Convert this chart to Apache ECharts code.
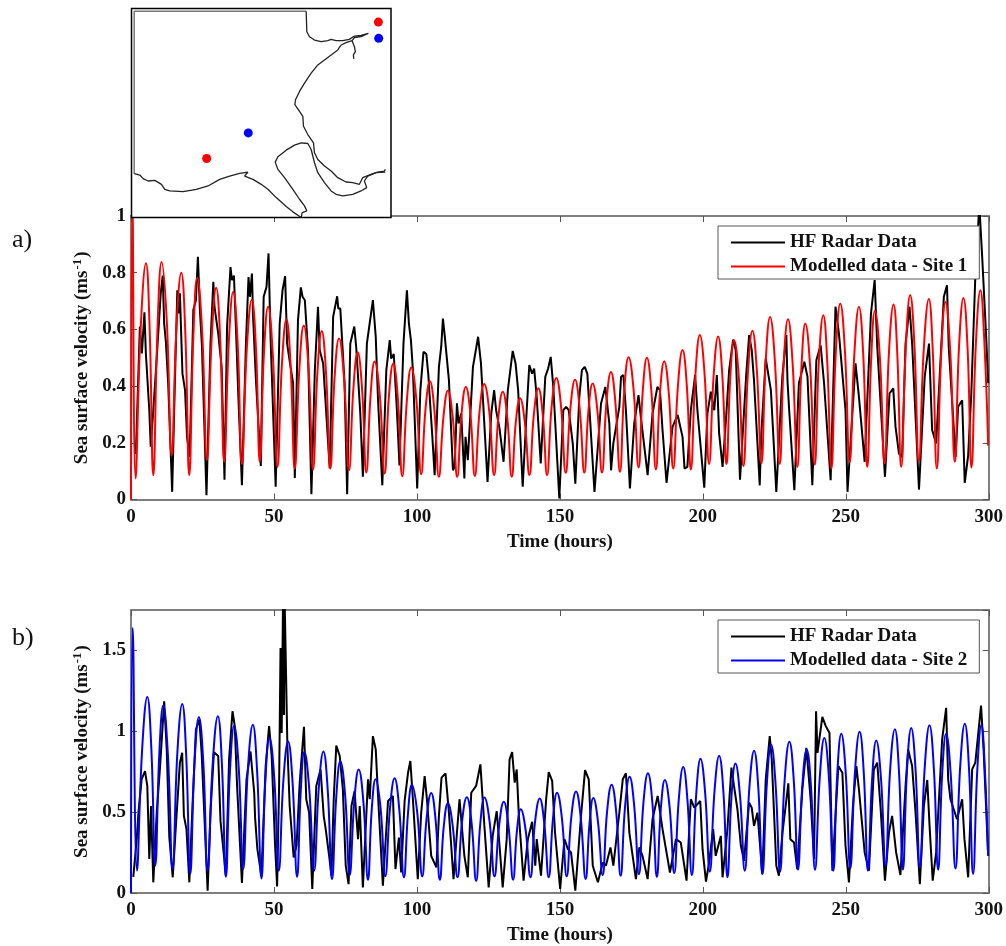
<!DOCTYPE html>
<html>
<head>
<meta charset="utf-8">
<title>Sea surface velocity</title>
<script src="https://cdn.jsdelivr.net/npm/echarts@6/dist/echarts.min.js"></script>
<style>
html,body{margin:0;padding:0;background:#fff;}
#main{width:1006px;height:946px;}
</style>
</head>
<body>
<div id="main"></div>
<script>
// site 1, hours and speed for the radar and the model
var radarHoursA=[1.7,3.1,3.8,4.7,5.2,6.4,6.9,7.8,9.0,10.4,11.1,11.6,12.2,13.0,14.4,15.4,16.2,16.6,17.1,18.0,18.9,19.6,20.5,21.8,22.7,23.4,24.1,24.8,26.4,27.8,28.8,29.2,30.5,31.7,32.7,33.6,34.8,35.3,36.0,36.9,37.5,38.8,40.2,41.1,41.6,42.3,42.7,43.7,45.4,46.4,47.4,48.1,48.8,50.6,52.0,53.0,53.9,54.6,55.8,56.7,57.3,58.4,59.4,60.0,60.8,61.9,63.1,64.3,65.4,66.0,67.2,69.5,70.7,72.1,72.5,73.2,74.7,75.6,76.7,78.1,78.8,80.2,81.1,82.5,84.6,85.6,86.4,87.9,89.3,90.5,91.0,91.9,93.0,93.9,95.3,96.5,97.2,97.9,98.6,100.1,101.2,102.3,103.3,104.0,104.4,105.4,106.2,107.0,107.7,108.5,109.1,109.7,110.2,111.2,112.6,113.2,114.0,114.6,115.5,116.6,117.0,117.8,119.6,120.5,121.4,122.4,124.7,126.0,127.0,127.7,128.9,130.3,131.8,133.5,134.5,135.4,137.0,138.4,139.3,140.3,141.0,141.9,143.3,144.9,145.9,146.8,147.7,149.8,151.2,152.2,153.1,154.5,155.4,156.8,157.7,158.7,159.6,162.1,164.4,165.9,167.3,167.9,168.7,170.8,171.4,172.2,173.1,174.5,176.0,177.5,178.3,180.7,182.4,184.1,185.0,185.9,187.3,189.4,191.2,192.9,193.6,194.6,195.8,197.3,198.1,200.5,201.6,202.8,204.0,204.9,205.7,206.9,208.0,209.2,210.6,211.5,213.0,215.2,216.2,217.1,217.9,219.9,220.4,222.0,223.8,225.7,227.8,229.2,229.6,230.2,232.0,233.6,235.5,236.6,238.3,239.7,241.2,242.4,244.7,246.4,247.6,249.9,250.6,253.4,254.6,256.6,258.8,260.1,261.0,263.7,265.3,266.6,267.4,268.6,269.7,270.9,272.3,273.2,275.6,277.6,279.1,280.2,281.6,284.3,285.4,286.0,288.4,289.3,290.7,291.6,292.8,293.9,295.3,296.7,297.7,299.1,299.8];
var radarSpeedA=[.16,.61,.515,.66,.515,.315,.186,.315,.5,.727,.79,.62,.556,.41,.027,.433,.738,.656,.727,.444,.386,.221,.15,.668,.703,.856,.668,.544,.015,.55,.768,.68,.586,.468,.07,.61,.82,.774,.79,.55,.374,.05,.55,.785,.715,.797,.644,.42,.118,.715,.75,.868,.574,.045,.62,.738,.788,.55,.468,.41,.076,.633,.748,.715,.703,.527,.019,.456,.68,.527,.48,.11,.644,.717,.674,.674,.41,.019,.55,.61,.533,.303,.08,.55,.703,.574,.35,.05,.456,.562,.497,.513,.315,.12,.55,.738,.62,.562,.456,.039,.386,.521,.513,.439,.374,.221,.086,.292,.468,.539,.638,.58,.586,.42,.103,.115,.339,.268,.303,.074,.221,.139,.468,.521,.574,.48,.062,.303,.386,.315,.25,.133,.386,.524,.48,.386,.045,.315,.474,.444,.462,.362,.127,.433,.462,.503,.397,.004,.315,.327,.315,.198,.056,.362,.456,.468,.444,.027,.339,.397,.268,.103,.198,.327,.433,.439,.315,.039,.268,.368,.292,.086,.303,.397,.386,.245,.059,.256,.298,.221,.109,.115,.315,.439,.315,.042,.303,.38,.315,.439,.233,.115,.268,.456,.564,.527,.07,.444,.58,.527,.42,.05,.221,.497,.386,.027,.433,.58,.42,.315,.033,.41,.486,.433,.05,.491,.544,.41,.068,.68,.586,.315,.027,.48,.362,.133,.656,.774,.539,.08,.374,.392,.256,.162,.15,.55,.68,.55,.035,.433,.55,.245,.198,.715,.756,.539,.15,.327,.35,.059,.156,.374,.786,1.04,.856,.574,.41];
var modelHoursA=[0,.5,1.6,3.4,5.24,6.5,7.8,9.3,10.71,12.5,14.2,15.9,17.58,19,20.37,21.8,23.17,24.9,26.54,28.2,29.8,31.2,32.6,34.2,35.74,37.3,38.77,40.5,42.26,43.7,45.05,46.5,47.96,49.6,51.22,52.8,54.37,55.8,57.28,58.9,60.42,62.1,63.68,65.2,66.71,68.2,69.73,71.2,72.76,74.5,76.25,77.8,79.28,80.8,82.31,83.8,85.22,87,88.71,90.2,91.73,93.3,94.88,96.5,98.02,99.8,101.5,103,104.54,106.1,107.68,109.3,110.83,112.5,114.09,115.6,117.11,118.7,120.26,121.9,123.52,125.3,127,128.5,130.03,131.6,133.18,134.6,136.09,137.7,139.35,140.9,142.49,144,145.52,147.1,148.77,150.4,152.04,153.7,155.3,156.9,158.56,160,161.47,163.1,164.73,166.3,167.87,169.4,171.01,172.5,174.04,175.8,177.53,179,180.44,182,183.59,185,186.5,188.1,189.64,191.3,192.9,194.4,195.81,197.4,198.95,200.6,202.2,203.8,205.36,206.8,208.27,209.6,210.94,212.6,214.2,215.8,217.35,218.9,220.49,222,223.52,225.2,226.89,228.3,229.8,231.4,233.06,234.5,235.86,237.5,239.12,240.6,242.14,243.5,244.94,246.5,248.08,249.7,251.34,253,254.6,256.1,257.51,258.9,260.19,261.9,263.56,265.1,266.71,268,269.38,271,272.53,274,275.55,277.3,279.05,280.4,281.84,283.4,284.87,286.5,288.13,289.6,291.15,292.6,293.95,295.5,297.09,298.4,299.8];
var modelSpeedA=[0,1.05,.074,.605,.833,.609,.086,.612,.838,.633,.156,.607,.8,.586,.086,.573,.782,.589,.139,.565,.747,.563,.133,.553,.733,.551,.125,.531,.705,.533,.133,.516,.68,.511,.115,.48,.636,.478,.109,.463,.614,.462,.106,.448,.594,.449,.109,.43,.568,.429,.103,.394,.519,.392,.095,.369,.487,.369,.092,.364,.48,.361,.082,.351,.466,.353,.089,.319,.417,.316,.08,.293,.384,.293,.08,.302,.397,.303,.083,.31,.407,.311,.086,.292,.38,.29,.08,.274,.357,.276,.086,.3,.392,.3,.086,.326,.429,.329,.094,.324,.422,.324,.095,.315,.409,.315,.095,.344,.45,.344,.098,.381,.502,.385,.113,.384,.5,.382,.106,.373,.488,.374,.109,.402,.527,.401,.106,.438,.58,.444,.125,.44,.575,.44,.125,.431,.562,.429,.118,.452,.595,.454,.127,.489,.644,.488,.125,.483,.636,.48,.115,.469,.621,.472,.123,.492,.65,.488,.109,.516,.691,.523,.131,.515,.68,.511,.115,.5,.665,.504,.127,.52,.688,.516,.115,.539,.721,.545,.133,.535,.707,.528,.109,.521,.697,.528,.133,.538,.711,.532,.113,.55,.738,.57,.19];

// site 2
var radarHoursB=[.8,2.0,2.6,3.7,4.9,5.7,6.4,7.0,7.8,9.0,10.1,11.6,12.5,13.4,14.6,15.7,17.1,17.9,18.5,19.4,20.4,21.5,22.7,23.9,24.7,26.8,27.8,29.0,30.5,31.3,33.2,34.3,35.5,36.3,37.1,38.8,40.4,41.8,43.1,43.4,44.2,45.6,47.1,48.3,49.2,50.4,51.1,51.8,52.3,52.7,53.2,53.5,53.7,54.1,54.7,55.5,56.9,57.9,59.0,60.5,61.3,62.3,63.4,64.8,66.3,67.4,68.1,69.3,70.1,70.9,71.8,73.0,74.1,75.1,76.1,77.1,78.2,79.4,80.0,81.1,82.9,83.5,84.6,85.6,86.4,88.1,89.9,91.6,92.5,93.7,94.5,95.7,96.9,97.7,98.6,100.3,101.5,102.7,103.5,105.0,106.8,107.7,108.6,110.0,111.2,112.8,114.0,114.9,115.7,116.6,117.8,119.0,120.7,122.2,123.6,125.1,126.5,127.9,128.9,130.0,131.4,132.4,133.3,134.2,134.9,135.6,137.3,138.8,140.3,141.4,141.9,143.4,145.2,146.1,147.3,148.3,150.1,151.6,152.8,153.9,155.4,157.4,158.8,160.1,161.5,163.3,165.0,166.1,167.7,168.7,170.8,172.0,173.1,174.3,176.6,177.8,178.9,180.7,182.4,184.2,185.9,187.1,188.5,190.6,192.3,194.3,195.8,197.0,199.1,199.9,201.1,202.2,203.6,204.5,206.3,206.9,207.8,208.6,210.0,210.9,212.1,213.3,214.4,216.2,217.1,217.9,219.1,220.8,222.0,223.4,224.1,225.7,226.6,227.8,229.9,230.6,231.9,233.0,234.8,236.2,237.7,238.9,239.6,240.1,241.8,243.0,244.3,245.3,247.4,248.8,249.9,251.1,252.5,253.7,254.6,256.6,258.1,259.8,261.0,262.2,263.7,265.1,266.2,267.6,269.1,270.9,271.8,273.2,274.4,275.9,277.3,278.5,279.3,280.4,281.6,283.7,285.1,285.8,286.6,288.9,290.7,291.5,292.8,294.2,295.3,297.3,298.2,299.8];
var radarSpeedB=[.1,.333,.497,.703,.754,.662,.21,.538,.066,.497,.764,1.186,.888,.343,.097,.415,.806,.867,.477,.395,.066,.538,1.011,1.073,.867,.014,.497,.871,.847,.446,.107,.826,1.124,1.032,.662,.062,.703,.875,.62,.466,.271,.107,.785,1.032,.847,.292,.041,.662,1.515,.99,1.85,1.1,1.85,1.85,.908,.538,.22,.292,.682,1.028,.58,.497,.025,.662,.764,.477,.395,.23,.107,.58,.912,.847,.641,.169,.055,.538,.631,.333,.538,.035,.703,.58,.97,.888,.6,.045,.569,.6,.148,.343,.127,.569,.744,.816,.58,.086,.497,.723,.58,.23,.158,.477,.713,.74,.497,.086,.374,.58,.415,.23,.097,.62,.662,.795,.415,.035,.353,.506,.292,.035,.333,.826,.871,.682,.764,.497,.076,.333,.44,.169,.333,.107,.58,.748,.693,.374,.025,.333,.271,.251,.014,.477,.76,.703,.169,.066,.189,.169,.282,.169,.497,.703,.74,.374,.086,.282,.23,.086,.456,.6,.395,.271,.127,.333,.312,.076,.58,.528,.569,.271,.07,.189,.395,.23,.353,.097,.251,.395,.775,.662,.518,.292,.199,.559,.528,.415,.497,.117,.703,.97,.826,.169,.107,.364,.678,.333,.312,.148,.641,.898,.58,.21,1.124,.867,1.089,1.032,.99,.138,.785,.744,.292,.066,.538,.785,.641,.251,.138,.764,.806,.518,.076,.374,.477,.251,.111,.662,.888,.785,.497,.055,.538,.699,.415,.076,.251,.949,1.145,.703,.58,.456,.58,.333,.097,.764,.806,1.159,.888,.23];
var modelHoursB=[0,.6,2.1,3.9,5.7,7.1,8.5,9.9,11.29,12.9,14.55,16.2,17.93,19.3,20.72,22.2,23.75,25.3,26.78,28.6,30.38,31.8,33.18,34.6,36.09,37.7,39.23,40.9,42.61,44.1,45.63,47,48.43,50.1,51.69,53.3,54.95,56.5,58.09,59.4,60.65,62.3,64.03,65.7,67.29,68.8,70.31,71.8,73.22,74.9,76.48,78.1,79.63,81.3,82.89,84.2,85.56,87.3,88.94,90.6,92.2,93.8,95.46,96.9,98.25,100.1,101.86,103.4,105,106.5,108.03,109.4,110.83,112.5,114.2,115.8,117.46,119.1,120.72,122.2,123.63,125.4,127.13,128.8,130.38,132,133.64,135,136.32,138,139.7,141.3,142.96,144.5,146.1,147.6,149.01,150.7,152.39,154,155.65,157.3,159.02,160.4,161.7,163.3,164.96,166.5,168.1,169.7,171.25,172.8,174.39,176,177.65,179.2,180.79,182.4,183.93,185.3,186.73,188.4,189.99,191.6,193.13,194.6,196.16,197.7,199.19,200.8,202.44,204.1,205.7,207.2,208.62,210,211.41,213,214.67,216.3,217.93,219.4,220.84,222.4,223.87,225.4,227.01,228.6,230.27,231.8,233.29,234.8,236.33,237.8,239.23,240.9,242.49,244.1,245.63,247,248.43,250,251.57,253.2,254.83,256.3,257.74,259.2,260.65,262.3,263.91,265.5,267.17,268.6,269.97,271.4,272.88,274.4,275.9,277.6,279.27,280.8,282.31,283.7,285.1,286.7,288.36,290,291.62,293.1,294.53,296,297.44,298.6,299.77];
var modelSpeedB=[0,1.64,.138,.89,1.212,.899,.17,.862,1.159,.856,.148,.863,1.169,.853,.117,.797,1.089,.804,.138,.807,1.093,.795,.1,.752,1.032,.767,.148,.772,1.04,.755,.09,.699,.96,.713,.138,.697,.937,.686,.1,.641,.873,.653,.138,.654,.875,.638,.086,.596,.814,.603,.111,.568,.764,.559,.082,.517,.703,.523,.103,.527,.709,.525,.097,.498,.67,.5,.103,.464,.619,.458,.082,.413,.555,.418,.097,.444,.592,.437,.076,.436,.59,.444,.103,.426,.565,.42,.082,.387,.518,.392,.097,.438,.584,.438,.097,.463,.62,.465,.103,.47,.627,.465,.086,.437,.588,.445,.111,.502,.67,.501,.107,.535,.719,.538,.117,.553,.74,.548,.1,.519,.699,.526,.123,.582,.779,.579,.111,.614,.83,.621,.132,.634,.849,.623,.097,.59,.801,.602,.138,.657,.88,.651,.117,.678,.919,.683,.132,.694,.935,.698,.144,.665,.888,.665,.144,.714,.958,.712,.138,.73,.984,.734,.152,.744,.997,.739,.138,.702,.943,.711,.169,.76,1.013,.752,.144,.758,1.021,.762,.158,.774,1.038,.77,.144,.732,.984,.734,.152,.778,1.046,.767,.117,.763,1.04,.78,.23];

// inset map, in map units
var landEdge=[[403,523],[403,33],[920,33]];
var coastNorth=[[920,33],[922,95],[930,110],[945,120],[965,125],[985,122],[995,118],[1010,122],[1030,122],[1050,118],[1065,108],[1085,106],[1107,100],[1085,110],[1065,113],[1058,122],[1040,128],[1025,135],[1015,150],[995,165],[975,180],[955,195],[935,220],[915,250],[900,275],[888,300],[886,315],[900,335],[910,350],[912,380],[925,405],[942,430],[945,460],[955,480],[975,500],[995,515],[1015,535],[1040,548],[1060,550],[1080,555],[1090,535],[1115,525],[1135,518],[1155,515],[1158,510]];
var coastBranch=[[1058,122],[1065,140],[1068,155],[1062,165],[1063,177]];
var coastSouth=[[1158,518],[1130,520],[1105,530],[1095,545],[1102,565],[1085,575],[1060,585],[1030,590],[1010,585],[995,575],[975,550],[955,520],[945,490],[935,450],[925,432],[905,430],[885,437],[860,452],[835,472],[827,488],[835,510],[855,535],[880,570],[900,600],[915,620],[922,635],[908,640],[905,655],[880,638],[860,622],[830,595],[805,570],[785,555],[760,540],[735,530],[745,518],[720,522],[690,530],[660,540],[625,560],[590,570],[550,577],[510,575],[495,570],[485,555],[465,543],[445,545],[430,538],[420,527],[403,523]];
var sitesRed=[[621,477],[1137,66]];
var sitesBlue=[[746,400],[1138,115]];

var serif='"Liberation Serif","Times New Roman",serif';
var axisGrey='#7f7f7f';

function pairs(xs,ys){
	var out=[];
	for(var i=0;i<xs.length;i++){
		out.push([xs[i],ys[i]]);
	}
	return out;
}

function timeAxis(idx,isTop){
	return {
		type:'value',gridIndex:idx,min:0,max:300,interval:50,
		position:isTop?'top':'bottom',
		name:isTop?'':'Time (hours)',nameLocation:'middle',nameGap:33,
		nameTextStyle:{fontFamily:serif,fontWeight:'bold',fontSize:19,color:'#111'},
		axisLine:{show:true,onZero:false,lineStyle:{color:axisGrey,width:2}},
		axisTick:{show:true,inside:true,length:6,lineStyle:{color:'#555',width:1}},
		axisLabel:{show:!isTop,margin:8,fontFamily:serif,fontWeight:'bold',fontSize:19,color:'#111'},
		splitLine:{show:false}
	};
}

function speedAxis(idx,isRight,max,step){
	return {
		type:'value',gridIndex:idx,min:0,max:max,interval:step,
		position:isRight?'right':'left',
		name:isRight?'':'{n|Sea surface velocity (ms}{s|-1}{n|)}',nameLocation:'middle',nameGap:37,
		nameTextStyle:{rich:{
			n:{fontFamily:serif,fontWeight:'bold',fontSize:19,color:'#111'},
			s:{fontFamily:serif,fontWeight:'bold',fontSize:13,color:'#111',padding:[0,1,9,1]}
		}},
		axisLine:{show:true,onZero:false,lineStyle:{color:axisGrey,width:2}},
		axisTick:{show:true,inside:true,length:6,lineStyle:{color:'#555',width:1}},
		axisLabel:{show:!isRight,margin:5,showMaxLabel:max==1,fontFamily:serif,fontWeight:'bold',fontSize:19,color:'#111'},
		splitLine:{show:false}
	};
}

function radarLine(name,data,idx){
	return {name:name,type:'line',xAxisIndex:idx,yAxisIndex:idx,data:data,showSymbol:false,symbol:'none',
		lineStyle:{color:'#000',width:2},itemStyle:{color:'#000'}};
}
function modelLine(name,data,idx,col){
	return {name:name,type:'line',xAxisIndex:idx,yAxisIndex:idx,data:data,showSymbol:false,symbol:'none',
		smooth:0.45,z:3,
		lineStyle:{color:col,width:2},itemStyle:{color:col}};
}
function mapLine(data,col,w){
	return {type:'line',xAxisIndex:4,yAxisIndex:4,data:data,showSymbol:false,symbol:'none',z:12,silent:true,
		lineStyle:{color:col,width:w}};
}
function mapSites(data,col){
	return {type:'scatter',xAxisIndex:4,yAxisIndex:4,data:data,symbolSize:9,z:13,silent:true,itemStyle:{color:col,opacity:1}};
}
function legendBox(top,names){
	return {orient:'vertical',left:718,top:top,data:names,selectedMode:false,
		itemWidth:54,itemHeight:14,itemGap:5,
		padding:[7,12,3,12],
		backgroundColor:'#fff',borderColor:'#555',borderWidth:1,borderRadius:0,
		itemStyle:{opacity:0},
		textStyle:{fontFamily:serif,fontWeight:'bold',fontSize:19,color:'#111'}};
}

var option={
	animation:false,
	title:[
		{text:'a)',left:12,top:227,padding:0,textStyle:{fontFamily:serif,fontWeight:'normal',fontSize:26,color:'#111'}},
		{text:'b)',left:12,top:625,padding:0,textStyle:{fontFamily:serif,fontWeight:'normal',fontSize:26,color:'#111'}}
	],
	legend:[
		legendBox(226,['HF Radar Data','Modelled data - Site 1']),
		legendBox(620,['HF Radar Data','Modelled data - Site 2'])
	],
	grid:[
		{left:131,top:216,width:859,height:283.5},
		{left:131,top:610,width:859,height:284},
		{left:131.5,top:8.5,width:259.5,height:209,show:true,z:10,backgroundColor:'#fff',borderColor:'#000',borderWidth:1.5}
	],
	xAxis:[
		timeAxis(0,false),timeAxis(1,false),timeAxis(0,true),timeAxis(1,true),
		{type:'value',gridIndex:2,min:395,max:1175,show:false}
	],
	yAxis:[
		speedAxis(0,false,1,0.2),speedAxis(1,false,1.75,0.5),speedAxis(0,true,1,0.2),speedAxis(1,true,1.75,0.5),
		{type:'value',gridIndex:2,min:25,max:655,inverse:true,show:false}
	],
	series:[
		radarLine('HF Radar Data',pairs(radarHoursA,radarSpeedA),0),
		modelLine('Modelled data - Site 1',pairs(modelHoursA,modelSpeedA),0,'#f00'),
		radarLine('HF Radar Data',pairs(radarHoursB,radarSpeedB),1),
		modelLine('Modelled data - Site 2',pairs(modelHoursB,modelSpeedB),1,'#00f'),
		mapLine(landEdge,'#777',1.5),
		mapLine(coastNorth,'#222',1.3),
		mapLine(coastBranch,'#222',1.3),
		mapLine(coastSouth,'#222',1.3),
		mapSites(sitesRed,'#f00'),
		mapSites(sitesBlue,'#00f')
	]
};

var myChart=echarts.init(document.getElementById('main'),null,{renderer:'canvas'});
myChart.setOption(option);
</script>
</body>
</html>
